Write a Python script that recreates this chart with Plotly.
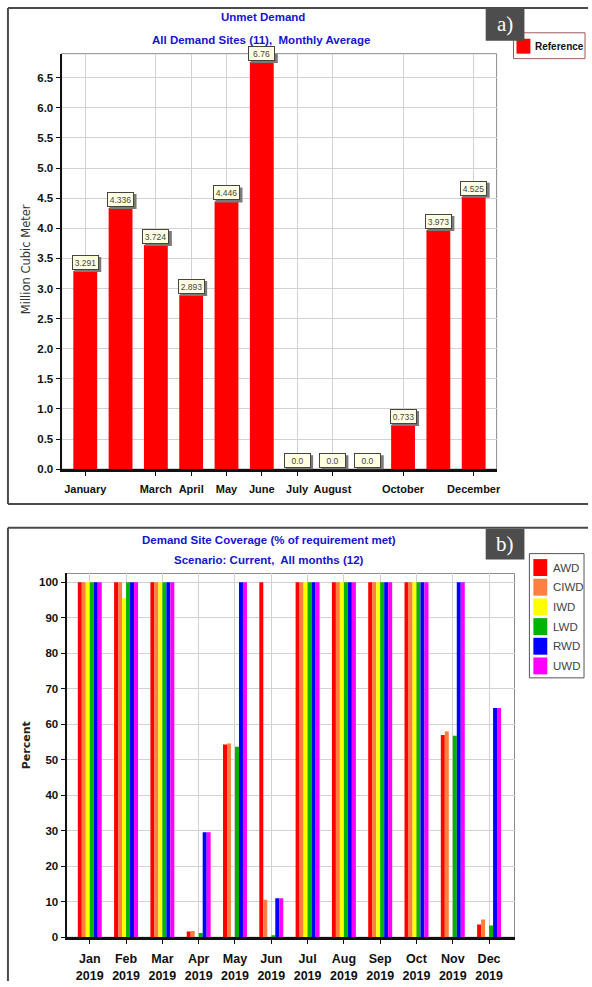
import plotly.graph_objects as go

W, H = 592, 987

# ---- Panel a: unmet demand, monthly average (million m3) ----
months = ["January", "February", "March", "April", "May", "June",
          "July", "August", "September", "October", "November", "December"]
unmet = [3.291, 4.336, 3.724, 2.893, 4.446, 6.76, 0.0, 0.0, 0.0, 0.733, 3.973, 4.525]
shown_months = ["January", "March", "April", "May", "June", "July",
                "August", "October", "December"]
y_ticks_a = [0.0, 0.5, 1.0, 1.5, 2.0, 2.5, 3.0, 3.5, 4.0, 4.5, 5.0, 5.5, 6.0, 6.5]

# ---- Panel b: demand site coverage (% of requirement met) ----
month_abbr = ["Jan", "Feb", "Mar", "Apr", "May", "Jun",
              "Jul", "Aug", "Sep", "Oct", "Nov", "Dec"]
year = "2019"
sites = ["AWD", "CIWD", "IWD", "LWD", "RWD", "UWD"]
site_colors = ["#FF0000", "#FF7F40", "#FFFF00", "#00B400", "#0000FF", "#FF00FF"]
awd = [100, 100, 100, 1.6, 54.3, 100, 100, 100, 100, 100, 57.0, 3.6]
ciwd = [100, 100, 100, 1.8, 54.6, 10.6, 100, 100, 100, 100, 58.0, 5.0]
iwd = [100, 95.5, 100, 0, 0, 0, 100, 100, 100, 100, 0, 0]
lwd = [100, 100, 100, 1.2, 53.7, 0.6, 100, 100, 100, 100, 56.8, 3.3]
rwd = [100, 100, 100, 29.6, 100, 11.0, 100, 100, 100, 100, 100, 64.6]
uwd = [100, 100, 100, 29.6, 100, 11.0, 100, 100, 100, 100, 100, 64.6]
coverage = [awd, ciwd, iwd, lwd, rwd, uwd]
y_ticks_b = [0, 10, 20, 30, 40, 50, 60, 70, 80, 90, 100]

FONT = "Liberation Sans, Arial, sans-serif"
SANS = "DejaVu Sans, Liberation Sans, sans-serif"
TITLE_BLUE = "#1414D2"
GRID = "#D2D2D2"


def px(x):
    return x / W


def py(y):
    return 1 - y / H


def fmt_value(v):
    s = f"{v:.3f}".rstrip("0")
    if s.endswith("."):
        s += "0"
    return s


fig = go.Figure()

fig.add_trace(go.Bar(
    x=months, y=unmet, name="Reference", marker_color="#FF0000",
    marker_line_width=0, width=0.675, xaxis="x", yaxis="y", showlegend=False,
))

x_labels_b = [f"{m}<br>{year}" for m in month_abbr]
for name, color, vals in zip(sites, site_colors, coverage):
    fig.add_trace(go.Bar(
        x=month_abbr, y=vals, name=name, marker_color=color,
        marker_line_width=0, xaxis="x2", yaxis="y2", showlegend=False,
    ))

axis_font = dict(family=FONT, size=11.5, color="#111111", weight="bold")
common_x = dict(showgrid=True, gridcolor=GRID, gridwidth=1, tickangle=0,
                ticks="outside", ticklen=4, tickcolor="#111111",
                showline=True, linecolor="#111111", linewidth=3,
                tickfont=axis_font, fixedrange=True, type="category")
common_y = dict(showgrid=True, gridcolor=GRID, gridwidth=1, zeroline=False,
                ticks="outside", ticklen=4, tickcolor="#111111",
                showline=True, linecolor="#111111", linewidth=2,
                tickfont=axis_font, fixedrange=True)

fig.update_layout(
    width=W, height=H, autosize=False,
    margin=dict(l=0, r=0, t=0, b=0),
    paper_bgcolor="white", plot_bgcolor="white",
    barmode="group", bargap=0.34, bargroupgap=0.0,
    xaxis=dict(
        common_x, domain=[px(62), px(500)], anchor="y",
        categoryorder="array", categoryarray=months,
        range=[-0.67, 11.65], ticklabelstandoff=4,
        tickfont=dict(axis_font, size=11),
        tickmode="array", tickvals=shown_months, ticktext=shown_months,
    ),
    yaxis=dict(
        common_y, domain=[py(472), py(54)], anchor="x",
        range=[0, 6.9],
        tickmode="array", tickvals=y_ticks_a,
        ticktext=[f"{v:.1f}" for v in y_ticks_a],
    ),
    xaxis2=dict(
        common_x, domain=[px(67), px(518)], anchor="y2",
        categoryorder="array", categoryarray=month_abbr,
        range=[-0.64, 11.7], ticklabelstandoff=4,
        tickfont=dict(axis_font, size=12.5),
        tickmode="array", tickvals=month_abbr, ticktext=x_labels_b,
    ),
    yaxis2=dict(
        common_y, domain=[py(943), py(577)], anchor="x2",
        range=[0, 102.5],
        tickmode="array", tickvals=y_ticks_b,
    ),
)

shapes = []
annotations = []

# Panel frames: top and left edges (right side runs off the page)
frame = dict(color="#4A4A4A", width=2)
shapes += [
    dict(type="line", xref="paper", yref="paper", x0=px(8), x1=1, y0=py(8), y1=py(8), line=frame),
    dict(type="line", xref="paper", yref="paper", x0=px(8), x1=px(8), y0=py(8), y1=py(507), line=frame),
    dict(type="line", xref="paper", yref="paper", x0=px(8), x1=1, y0=py(507), y1=py(507), line=frame),
    dict(type="line", xref="paper", yref="paper", x0=px(8), x1=1, y0=py(531), y1=py(531), line=frame),
    dict(type="line", xref="paper", yref="paper", x0=px(8), x1=px(8), y0=py(531), y1=0, line=frame),
]

# Plot-area borders (top/right in grey)
for xr, yr in [("x domain", "y domain"), ("x2 domain", "y2 domain")]:
    shapes.append(dict(type="rect", xref=xr, yref=yr, x0=0, x1=1, y0=0, y1=1,
                       line=dict(color="#8C8C8C", width=1), layer="below"))

# Value labels on panel a: cream boxes with a grey drop shadow
for m, v in zip(months, unmet):
    shapes.append(dict(
        type="rect", xref="x", yref="y",
        xsizemode="pixel", xanchor=m, x0=-11, x1=16,
        ysizemode="pixel", yanchor=v, y0=-1, y1=14,
        line=dict(width=0), fillcolor="#7A7A7A", layer="above",
    ))
    annotations.append(dict(
        x=m, y=v, xref="x", yref="y", text=fmt_value(v), showarrow=False,
        yanchor="bottom", yshift=1, width=23, height=11,
        font=dict(family=FONT, size=8.5, color="#444444"),
        bgcolor="#FFFFE1", bordercolor="#444444", borderwidth=1, borderpad=1,
    ))

# Titles
title_font = dict(family=FONT, size=11.5, color=TITLE_BLUE, weight="bold")
for text, x, y in [("Unmet Demand", 265, 17),
                   ("All Demand Sites (11),  Monthly Average", 263, 40),
                   ("Demand Site Coverage (% of requirement met)", 271, 543),
                   ("Scenario: Current,  All months (12)", 271, 563)]:
    annotations.append(dict(x=px(x), y=py(y), xref="paper", yref="paper",
                            text=text, showarrow=False, xanchor="center",
                            yanchor="middle", font=title_font))

# Axis titles
annotations.append(dict(x=px(27), y=py(261), xref="paper", yref="paper",
                        text="Million Cubic Meter", textangle=-90, showarrow=False,
                        xanchor="center", yanchor="middle",
                        font=dict(family=SANS, size=11.5, color="#333333")))
annotations.append(dict(x=px(27), y=py(750), xref="paper", yref="paper",
                        text="Percent", textangle=-90, showarrow=False,
                        xanchor="center", yanchor="middle",
                        font=dict(family=SANS, size=11, color="#222222", weight="bold")))

# Legend, panel a
shapes.append(dict(type="rect", xref="paper", yref="paper",
                   x0=px(517), x1=px(589), y0=py(59), y1=py(33),
                   line=dict(color="#9A5A5A", width=1), fillcolor="white"))
shapes.append(dict(type="rect", xref="paper", yref="paper",
                   x0=px(520), x1=px(534), y0=py(54), y1=py(39),
                   line=dict(width=0), fillcolor="#FF0000"))
annotations.append(dict(x=px(536.5), y=py(46.5), xref="paper", yref="paper",
                        text="Reference", showarrow=False, xanchor="left",
                        yanchor="middle",
                        font=dict(family=FONT, size=10, color="#111111", weight="bold")))

# Legend, panel b
shapes.append(dict(type="rect", xref="paper", yref="paper",
                   x0=px(533), x1=px(588), y0=py(682), y1=py(557),
                   line=dict(color="#555555", width=1), fillcolor="white"))
for i, (name, color) in enumerate(zip(sites, site_colors)):
    yc = 571 + i * 19.8
    shapes.append(dict(type="rect", xref="paper", yref="paper",
                       x0=px(537), x1=px(551), y0=py(yc + 8.5), y1=py(yc - 8.5),
                       line=dict(width=0), fillcolor=color))
    annotations.append(dict(x=px(555), y=py(yc), xref="paper", yref="paper",
                            text=name, showarrow=False, xanchor="left",
                            yanchor="middle",
                            font=dict(family=FONT, size=11.5, color="#444444")))

# Panel tags
for tag, top, bottom in [("a)", 8, 41), ("b)", 532, 563)]:
    shapes.append(dict(type="rect", xref="paper", yref="paper",
                       x0=px(489), x1=px(528), y0=py(bottom), y1=py(top),
                       line=dict(width=0), fillcolor="#4D4D4D"))
    annotations.append(dict(x=px(508.5), y=py((top + bottom) / 2), xref="paper",
                            yref="paper", text=tag, showarrow=False,
                            xanchor="center", yanchor="middle",
                            font=dict(family="Liberation Serif, DejaVu Serif, serif",
                                      size=21, color="white")))

fig.update_layout(shapes=shapes, annotations=annotations)

fig.write_html("out.html")
